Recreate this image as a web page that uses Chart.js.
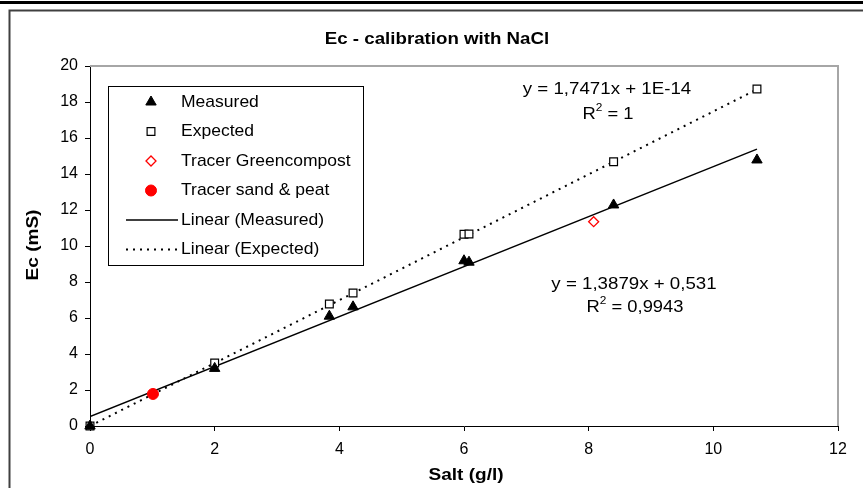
<!DOCTYPE html>
<html>
<head>
<meta charset="utf-8">
<script src="https://cdn.jsdelivr.net/npm/chart.js@4/dist/chart.umd.min.js"></script>
<style>
  html, body { margin: 0; padding: 0; background: #fff; }
  #wrap { width: 863px; height: 488px; }
</style>
</head>
<body>
<div id="wrap"><canvas id="chart" width="863" height="488"></canvas></div>
<script>
// values
const saltX = [0, 2.0, 3.84, 4.22, 6.0, 6.08, 8.4, 10.7];
const measuredY = [0, 3.2, 6.1, 6.62, 9.18, 9.1, 12.28, 14.78];
const expectedY = [0, 3.5, 6.78, 7.39, 10.65, 10.67, 14.68, 18.72];
const greenX = [8.08];
const greenY = [11.35];
const sandX = [1.01];
const sandY = [1.78];
// trendline ends (x from 0 to last point)
const trendX = [0, 10.7];
const trendMeasuredY = [0.53, 15.38];
const trendExpectedY = [0, 18.7];
const xTicks = [0, 2, 4, 6, 8, 10, 12];
const yTicks = [0, 2, 4, 6, 8, 10, 12, 14, 16, 18, 20];

const legendNames = ['Measured', 'Expected', 'Tracer Greencompost', 'Tracer sand & peat', 'Linear (Measured)', 'Linear (Expected)'];

function pts(xs, ys) {
    return xs.map((x, i) => ({ x: x, y: ys[i] }));
}

const FONT = '"Liberation Sans", Arial, sans-serif';

// text drawn slightly wider, like the original export
function stretchText(ctx, txt, x, y, font, sx, align) {
    ctx.save();
    ctx.font = font;
    ctx.textBaseline = 'middle';
    ctx.textAlign = align || 'left';
    ctx.translate(x, y);
    ctx.scale(sx, 1);
    ctx.fillText(txt, 0, 0);
    ctx.restore();
}

// "R² = ..." centred on x
function drawR2(ctx, value, cx, y) {
    const big = '17px ' + FONT;
    const small = '11px ' + FONT;
    const sx = 1.08;
    ctx.save();
    ctx.font = big;
    const wR = ctx.measureText('R').width * sx;
    const wRest = ctx.measureText(' = ' + value).width * sx;
    ctx.font = small;
    const w2 = ctx.measureText('2').width * sx;
    let x = cx - (wR + w2 + wRest) / 2;
    ctx.fillStyle = '#000';
    stretchText(ctx, 'R', x, y, big, sx);
    stretchText(ctx, '2', x + wR, y - 6, small, sx);
    stretchText(ctx, ' = ' + value, x + wR + w2, y, big, sx);
    ctx.restore();
}

const framePlugin = {
    id: 'frame',
    beforeDraw(chart) {
        const ctx = chart.ctx;
        ctx.save();
        ctx.fillStyle = '#fff';
        ctx.fillRect(0, 0, chart.width, chart.height);
        // top black rule
        ctx.fillStyle = '#000';
        ctx.fillRect(0, 1, chart.width, 3);
        // outer chart border
        ctx.strokeStyle = '#404040';
        ctx.lineWidth = 2;
        ctx.beginPath();
        ctx.moveTo(9.5, chart.height);
        ctx.lineTo(9.5, 10.5);
        ctx.lineTo(chart.width, 10.5);
        ctx.stroke();
        ctx.restore();
    },
    beforeDatasetsDraw(chart) {
        const ctx = chart.ctx;
        const a = chart.chartArea;
        ctx.save();
        // plot area border (top and right)
        ctx.strokeStyle = '#a6a6a6';
        ctx.lineWidth = 2;
        ctx.beginPath();
        ctx.moveTo(a.left, a.top);
        ctx.lineTo(a.right, a.top);
        ctx.lineTo(a.right, a.bottom);
        ctx.stroke();
        ctx.restore();
    },
    afterDatasetsDraw(chart) {
        const ctx = chart.ctx;
        ctx.save();
        ctx.fillStyle = '#000';
        // title and axis titles
        stretchText(ctx, 'Ec - calibration with NaCl', 437, 39, 'bold 17px ' + FONT, 1.1, 'center');
        stretchText(ctx, 'Salt (g/l)', 466, 475, 'bold 17px ' + FONT, 1.12, 'center');
        ctx.save();
        ctx.translate(33, 245);
        ctx.rotate(-Math.PI / 2);
        stretchText(ctx, 'Ec (mS)', 0, 0, 'bold 17px ' + FONT, 1.12, 'center');
        ctx.restore();

        // trendline equations
        stretchText(ctx, 'y = 1,7471x + 1E-14', 607, 89, '17px ' + FONT, 1.1, 'center');
        drawR2(ctx, '1', 608, 114);
        stretchText(ctx, 'y = 1,3879x + 0,531', 634, 284, '17px ' + FONT, 1.1, 'center');
        drawR2(ctx, '0,9943', 635, 307);

        // legend box
        ctx.fillStyle = '#fff';
        ctx.fillRect(108, 86, 255, 179);
        ctx.strokeStyle = '#000';
        ctx.lineWidth = 1;
        ctx.strokeRect(108.5, 86.5, 255, 179);
        const rowY0 = 102, rowStep = 29.5;
        chart.data.datasets.forEach((ds, i) => {
            const y = rowY0 + i * rowStep;
            if (ds.showLine) {
                ctx.save();
                ctx.strokeStyle = ds.borderColor;
                ctx.lineWidth = ds.borderWidth;
                ctx.setLineDash(ds.borderDash || []);
                ctx.beginPath();
                ctx.moveTo(126, y);
                ctx.lineTo(178, y);
                ctx.stroke();
                ctx.restore();
            } else {
                ctx.save();
                ctx.fillStyle = ds.pointBackgroundColor;
                ctx.strokeStyle = ds.pointBorderColor;
                ctx.lineWidth = ds.pointBorderWidth;
                Chart.helpers.drawPoint(ctx, {
                    pointStyle: ds.pointStyle,
                    radius: ds.pointRadius,
                    rotation: 0,
                    borderWidth: ds.pointBorderWidth
                }, 151, y);
                ctx.restore();
            }
            ctx.fillStyle = '#000';
            stretchText(ctx, legendNames[i], 181, y, '17px ' + FONT, 1.03, 'left');
        });
        ctx.restore();
    }
};

new Chart(document.getElementById('chart'), {
    type: 'scatter',
    data: {
        datasets: [
            {
                label: legendNames[0],
                data: pts(saltX, measuredY),
                pointStyle: 'triangle',
                pointRadius: 6,
                pointBackgroundColor: '#000',
                pointBorderColor: '#000',
                pointBorderWidth: 1,
                clip: false
            },
            {
                label: legendNames[1],
                data: pts(saltX, expectedY),
                pointStyle: 'rect',
                pointRadius: 5.5,
                pointBackgroundColor: '#fff',
                pointBorderColor: '#000',
                pointBorderWidth: 1.2,
                clip: false
            },
            {
                label: legendNames[2],
                data: pts(greenX, greenY),
                pointStyle: 'rectRot',
                pointRadius: 5,
                pointBackgroundColor: '#fff',
                pointBorderColor: '#ff0000',
                pointBorderWidth: 1.3,
                clip: false
            },
            {
                label: legendNames[3],
                data: pts(sandX, sandY),
                pointStyle: 'circle',
                pointRadius: 5.5,
                pointBackgroundColor: '#ff0000',
                pointBorderColor: '#ff0000',
                pointBorderWidth: 1,
                clip: false
            },
            {
                label: legendNames[4],
                data: pts(trendX, trendMeasuredY),
                showLine: true,
                pointRadius: 0,
                borderColor: '#000',
                borderWidth: 1.5
            },
            {
                label: legendNames[5],
                data: pts(trendX, trendExpectedY),
                showLine: true,
                pointRadius: 0,
                borderColor: '#000',
                borderWidth: 2,
                borderDash: [2, 5]
            }
        ]
    },
    options: {
        responsive: false,
        animation: false,
        layout: { padding: { left: 0, top: 66, right: 25, bottom: 0 } },
        plugins: {
            legend: { display: false },
            title: { display: false },
            tooltip: { enabled: false }
        },
        scales: {
            x: {
                type: 'linear',
                min: 0,
                max: 12,
                afterBuildTicks: s => { s.ticks = xTicks.map(v => ({ value: v })); },
                afterFit: s => { s.height = 62; },
                grid: { drawOnChartArea: false, drawTicks: true, tickLength: 5, color: '#000' },
                border: { color: '#000', width: 1 },
                ticks: { color: '#000', padding: 9, font: { family: FONT, size: 16 }, maxRotation: 0 }
            },
            y: {
                type: 'linear',
                min: 0,
                max: 20,
                afterBuildTicks: s => { s.ticks = yTicks.map(v => ({ value: v })); },
                afterFit: s => { s.width = 90; },
                grid: { drawOnChartArea: false, drawTicks: true, tickLength: 5, color: '#000' },
                border: { color: '#000', width: 1 },
                ticks: { color: '#000', padding: 7, font: { family: FONT, size: 16 } }
            }
        }
    },
    plugins: [framePlugin]
});
</script>
</body>
</html>
